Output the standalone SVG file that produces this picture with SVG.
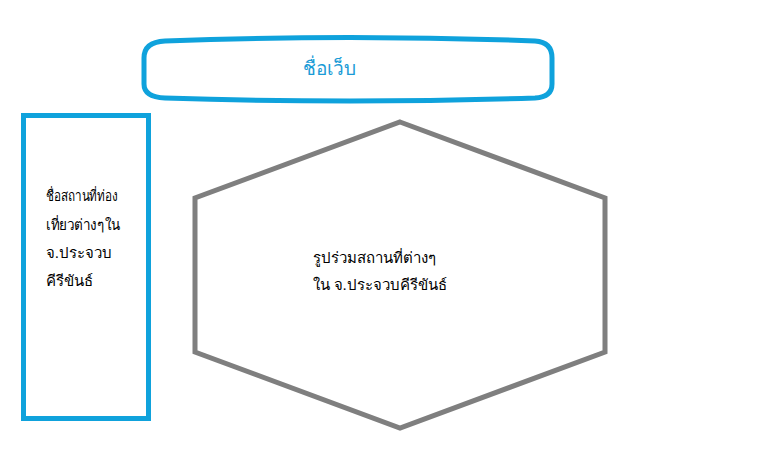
<svg xmlns="http://www.w3.org/2000/svg" width="760" height="474" viewBox="0 0 760 474">
<style>
.blue{fill:none;stroke:#0fa2dc;stroke-width:5}
.gray{fill:none;stroke:#7f7f7f;stroke-width:5}
text{font-family:"Liberation Serif","Noto Sans",serif;font-size:15px;fill:#000}
.title{font-size:19px;fill:#1a9bd6}
</style>
<rect width="760" height="474" fill="#fff"/>
<g id="title">
<path class="blue" d="M165 41 Q350 34 535 41 Q552 42 552 58 L552 84 Q552 97 535 98 Q350 104 165 98 Q144 97 144 84 L144 58 Q144 42 165 41 Z"/>
<text class="title" x="329" y="75" text-anchor="middle">ชื่อเว็บ</text>
</g>
<g id="places">
<rect class="blue" x="23.5" y="115.5" width="125" height="303"/>
<text transform="translate(46,201) scale(0.78,1)">ชื่อสถานที่ท่อง</text>
<text transform="translate(46,230) scale(0.9,1)">เที่ยวต่างๆใน</text>
<text x="46" y="258">จ.ประจวบ</text>
<text x="46" y="286">คีรีขันธ์</text>
</g>
<g id="photos">
<polygon class="gray" points="400,122 605,198 605,352 400,428 195,352 195,198"/>
<text x="313" y="263">รูปร่วมสถานที่ต่างๆ</text>
<text x="313" y="290">ใน จ.ประจวบคีรีขันธ์</text>
</g>
<g id="connectors"></g>
</svg>
